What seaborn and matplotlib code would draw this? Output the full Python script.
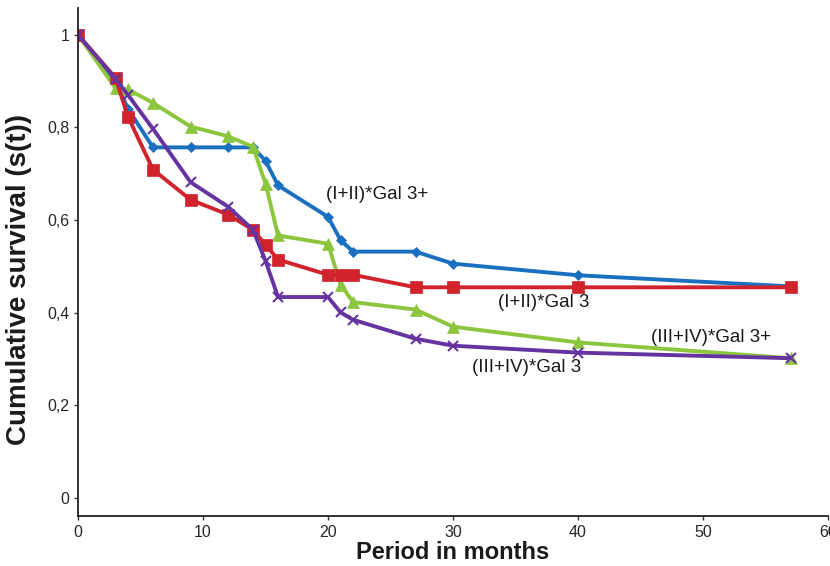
import matplotlib
matplotlib.use("Agg")
import matplotlib.pyplot as plt
import seaborn as sns
import pandas as pd

months = [0, 3, 4, 6, 9, 12, 14, 15, 16, 20, 21, 22, 27, 30, 40, 57]

gal3p_I_II = [1.0, 0.90, 0.84, 0.757, 0.757, 0.757, 0.757, 0.728, 0.675, 0.607, 0.557, 0.532, 0.532, 0.506, 0.481, 0.457]
gal3_I_II = [1.0, 0.907, 0.823, 0.709, 0.644, 0.612, 0.579, 0.547, 0.515, 0.482, 0.482, 0.482, 0.455, 0.455, 0.455, 0.455]
gal3p_III_IV = [1.0, 0.885, 0.882, 0.853, 0.802, 0.781, 0.758, 0.679, 0.567, 0.549, 0.461, 0.423, 0.407, 0.370, 0.336, 0.302]
gal3_III_IV = [1.0, 0.905, 0.870, 0.797, 0.682, 0.629, 0.579, 0.512, 0.434, 0.434, 0.401, 0.385, 0.344, 0.329, 0.314, 0.302]

series_names = ["(I+II)*Gal 3+", "(I+II)*Gal 3", "(III+IV)*Gal 3+", "(III+IV)*Gal 3"]
series_values = [gal3p_I_II, gal3_I_II, gal3p_III_IV, gal3_III_IV]

x_ticks = [0, 10, 20, 30, 40, 50, 60]
y_ticks = [0, 0.2, 0.4, 0.6, 0.8, 1.0]
y_tick_labels = ["0", "0,2", "0,4", "0,6", "0,8", "1"]

sns.set_style("white")
plt.rcParams['font.family'] = ['Liberation Sans', 'DejaVu Sans']

fig = plt.figure(figsize=(8.3, 5.66), dpi=100)
ax = fig.add_axes([0.094, 0.088, 0.9036, 0.898])

styles = {
    "(I+II)*Gal 3+": dict(color="#1a6fc0", marker="D", ms=5),
    "(I+II)*Gal 3": dict(color="#d0232c", marker="s", ms=8),
    "(III+IV)*Gal 3+": dict(color="#8cc63f", marker="^", ms=8),
    "(III+IV)*Gal 3": dict(color="#6534a0", marker="x", ms=7),
}

draw_order = ["(I+II)*Gal 3+", "(III+IV)*Gal 3+", "(I+II)*Gal 3", "(III+IV)*Gal 3"]
frames = {n: pd.DataFrame({"month": months, "surv": v}) for n, v in zip(series_names, series_values)}
for n in draw_order:
    st = styles[n]
    sns.lineplot(data=frames[n], x="month", y="surv", ax=ax, color=st["color"],
                 marker=st["marker"], markersize=st["ms"], linewidth=2.8,
                 markeredgecolor=st["color"], markeredgewidth=1.5 if st["marker"] == "x" else 0.5,
                 errorbar=None)

ax.set_xlim(0, 60)
ax.set_ylim(-0.039, 1.058)
ax.set_xticks(x_ticks)
ax.set_xticklabels([str(t) for t in x_ticks], fontsize=11.5)
ax.set_yticks(y_ticks)
ax.set_yticklabels(y_tick_labels, fontsize=11.5)
ax.tick_params(axis="both", which="both", direction="out", length=3, width=1, color="#333333",
               left=True, bottom=True, pad=3)

for s in ["top", "right"]:
    ax.spines[s].set_visible(False)
for s in ["left", "bottom"]:
    ax.spines[s].set_color("#222222")
    ax.spines[s].set_linewidth(1.3)

ax.set_xlabel("Period in months", fontsize=17, fontweight="bold", labelpad=1, color="#1a1a1a")
ax.set_ylabel("Cumulative survival (s(t))", fontsize=20, fontweight="bold", color="#1a1a1a")
ax.yaxis.set_label_coords(-0.061, 0.465)

label_pos = {
    "(I+II)*Gal 3+": (19.8, 0.655),
    "(I+II)*Gal 3": (33.6, 0.423),
    "(III+IV)*Gal 3+": (45.8, 0.347),
    "(III+IV)*Gal 3": (31.5, 0.281),
}
for n in series_names:
    x, y = label_pos[n]
    ax.text(x, y, n, fontsize=13.5, color="#1a1a1a", ha="left", va="center")

fig.savefig("out.png", dpi=100)
